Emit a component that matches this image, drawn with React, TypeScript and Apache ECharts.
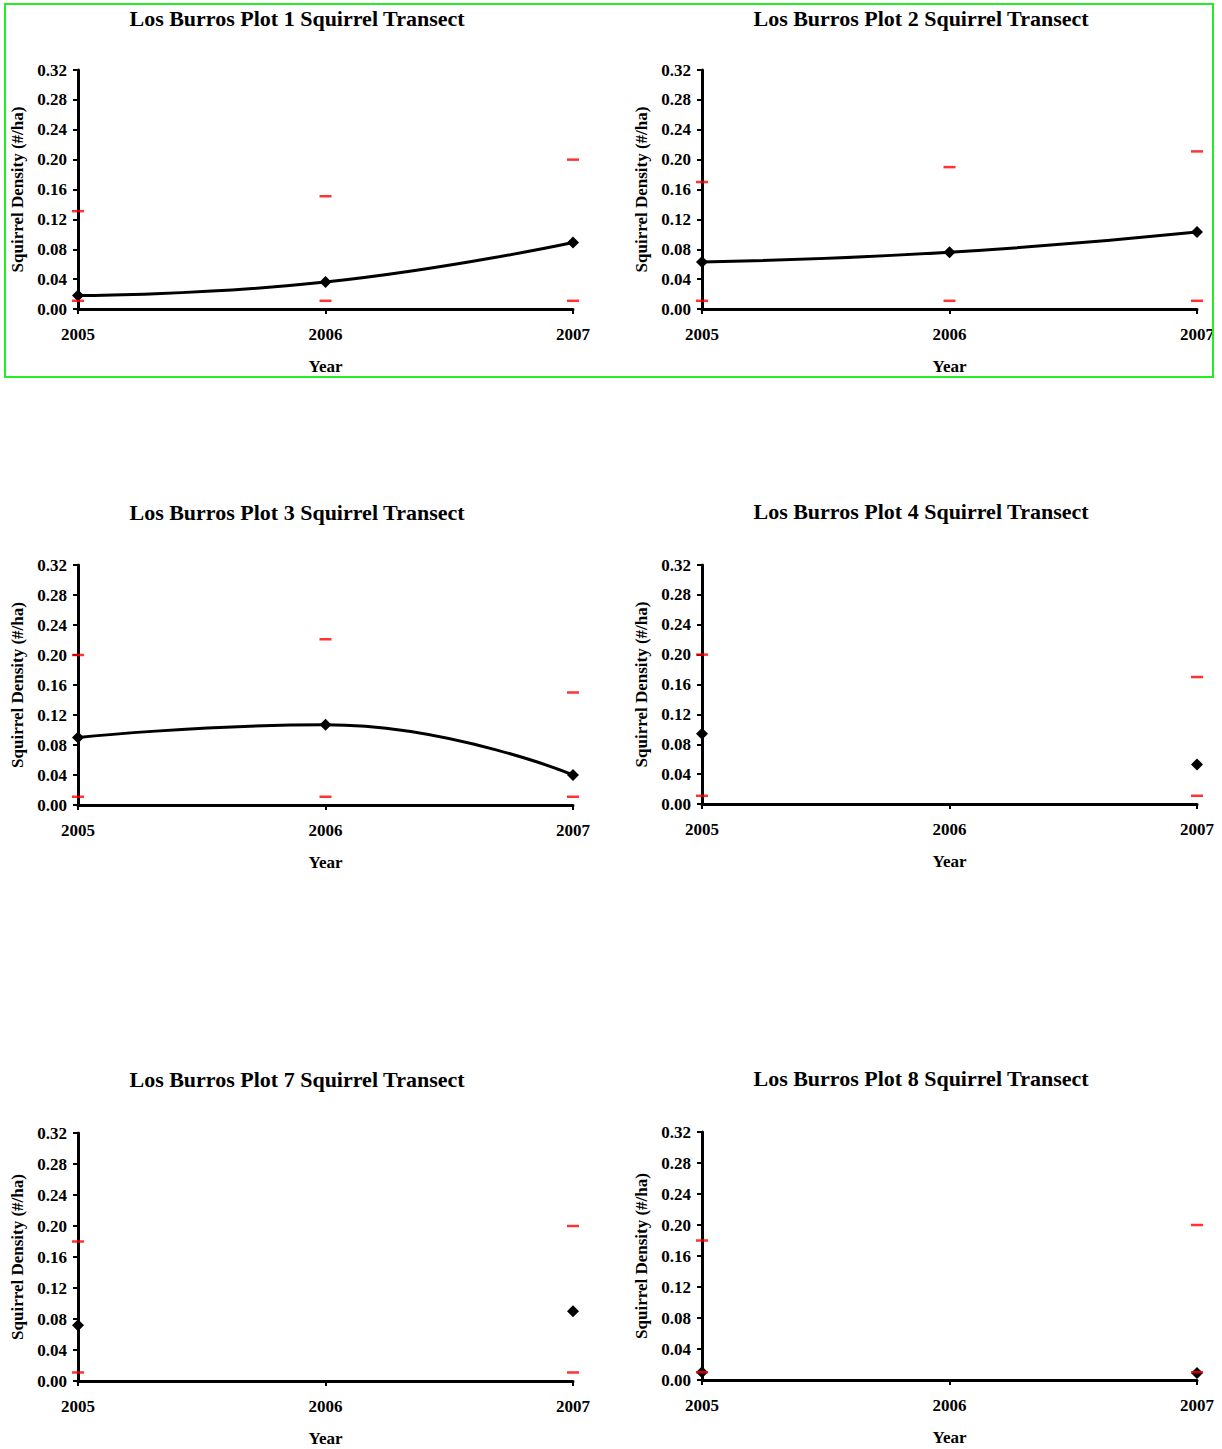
import React, { useEffect, useRef } from "react";
import * as echarts from "echarts";

const years = ["2005", "2006", "2007"];
const yTicks = [0, 0.04, 0.08, 0.12, 0.16, 0.2, 0.24, 0.28, 0.32];

const plotTitles = [
  "Los Burros Plot 1 Squirrel Transect",
  "Los Burros Plot 2 Squirrel Transect",
  "Los Burros Plot 3 Squirrel Transect",
  "Los Burros Plot 4 Squirrel Transect",
  "Los Burros Plot 7 Squirrel Transect",
  "Los Burros Plot 8 Squirrel Transect",
];

const plot1Density = [0.018, 0.036, 0.089];
const plot1Upper = [0.131, 0.151, 0.2];
const plot1Lower = [0.011, 0.011, 0.011];

const plot2Density = [0.063, 0.076, 0.103];
const plot2Upper = [0.17, 0.19, 0.211];
const plot2Lower = [0.011, 0.011, 0.011];

const plot3Density = [0.09, 0.107, 0.04];
const plot3Upper = [0.2, 0.221, 0.15];
const plot3Lower = [0.011, 0.011, 0.011];

const plot4Density = [0.094, null, 0.053];
const plot4Upper = [0.2, null, 0.17];
const plot4Lower = [0.011, null, 0.011];

const plot7Density = [0.072, null, 0.09];
const plot7Upper = [0.18, null, 0.2];
const plot7Lower = [0.011, null, 0.011];

const plot8Density = [0.01, null, 0.009];
const plot8Upper = [0.18, null, 0.2];
const plot8Lower = [0.01, null, 0.01];

const densities = [plot1Density, plot2Density, plot3Density, plot4Density, plot7Density, plot8Density];
const uppers = [plot1Upper, plot2Upper, plot3Upper, plot4Upper, plot7Upper, plot8Upper];
const lowers = [plot1Lower, plot2Lower, plot3Lower, plot4Lower, plot7Lower, plot8Lower];

// layout of each panel (pixels)
const panels = [
  { left: 78, top: 70, height: 239, titleX: 297, titleY: 7 },
  { left: 702, top: 70, height: 239, titleX: 921, titleY: 7 },
  { left: 78, top: 565, height: 240, titleX: 297, titleY: 501 },
  { left: 702, top: 565, height: 239, titleX: 921, titleY: 500 },
  { left: 78, top: 1133, height: 248, titleX: 297, titleY: 1068 },
  { left: 702, top: 1132, height: 248, titleX: 921, titleY: 1067 },
];
const plotWidth = 495;

const FONT = "'Liberation Serif', 'Times New Roman', serif";

export default function App() {
  const ref = useRef<HTMLDivElement>(null);
  useEffect(() => {
    if (!ref.current) return;
    const chart = echarts.init(ref.current, undefined, { renderer: "svg" });

    const grids: any[] = [];
    const xAxes: any[] = [];
    const yAxes: any[] = [];
    const titles: any[] = [];
    const series: any[] = [];

    panels.forEach((p, i) => {
      grids.push({ left: p.left, top: p.top, width: plotWidth, height: p.height, containLabel: false });
      titles.push({
        text: plotTitles[i],
        left: p.titleX,
        top: p.titleY,
        textAlign: "center",
        padding: 0,
        textStyle: { fontFamily: FONT, fontWeight: "bold", fontSize: 22, color: "#000" },
      });
      xAxes.push({
        type: "category",
        gridIndex: i,
        data: years,
        boundaryGap: false,
        name: "Year",
        nameLocation: "middle",
        nameGap: 49,
        nameTextStyle: { fontFamily: FONT, fontWeight: "bold", fontSize: 17, color: "#000" },
        axisLine: { lineStyle: { color: "#000", width: 3 } },
        axisTick: { show: true, length: 5, lineStyle: { color: "#000", width: 2 } },
        axisLabel: { fontFamily: FONT, fontWeight: "bold", fontSize: 17, color: "#000", margin: 17 },
        splitLine: { show: false },
      });
      yAxes.push({
        type: "value",
        gridIndex: i,
        min: yTicks[0],
        max: yTicks[yTicks.length - 1],
        interval: yTicks[1] - yTicks[0],
        name: "Squirrel Density (#/ha)",
        nameLocation: "middle",
        nameGap: 52,
        nameTextStyle: { fontFamily: FONT, fontWeight: "bold", fontSize: 17, color: "#000" },
        axisLine: { show: true, lineStyle: { color: "#000", width: 3 } },
        axisTick: { show: true, length: 5, lineStyle: { color: "#000", width: 2 } },
        axisLabel: {
          fontFamily: FONT,
          fontWeight: "bold",
          fontSize: 17,
          color: "#000",
          margin: 11,
          formatter: (v: number) => v.toFixed(2),
        },
        splitLine: { show: false },
      });
      series.push({
        type: "line",
        xAxisIndex: i,
        yAxisIndex: i,
        data: densities[i],
        smooth: 0.5,
        connectNulls: false,
        symbol: "diamond",
        symbolSize: 12,
        showSymbol: true,
        lineStyle: { color: "#000", width: 3 },
        itemStyle: { color: "#000" },
        z: 3,
      });
      series.push({
        type: "scatter",
        xAxisIndex: i,
        yAxisIndex: i,
        data: uppers[i],
        symbol: "rect",
        symbolSize: [12, 2.5],
        itemStyle: { color: "#ff0000" },
        z: 4,
      });
      series.push({
        type: "scatter",
        xAxisIndex: i,
        yAxisIndex: i,
        data: lowers[i],
        symbol: "rect",
        symbolSize: [12, 2.5],
        itemStyle: { color: "#ff0000" },
        z: 4,
      });
    });

    chart.setOption({
      animation: false,
      backgroundColor: "#fff",
      title: titles,
      grid: grids,
      xAxis: xAxes,
      yAxis: yAxes,
      series,
      graphic: [
        {
          type: "rect",
          shape: { x: 5, y: 4, width: 1208, height: 373 },
          style: { fill: "none", stroke: "#22ee22", lineWidth: 2 },
          z: 10,
        },
      ],
    });
    return () => chart.dispose();
  }, []);
  return (
    <div
      ref={ref}
      style={{ position: "absolute", left: 0, top: 0, width: 1222, height: 1449 }}
    />
  );
}
